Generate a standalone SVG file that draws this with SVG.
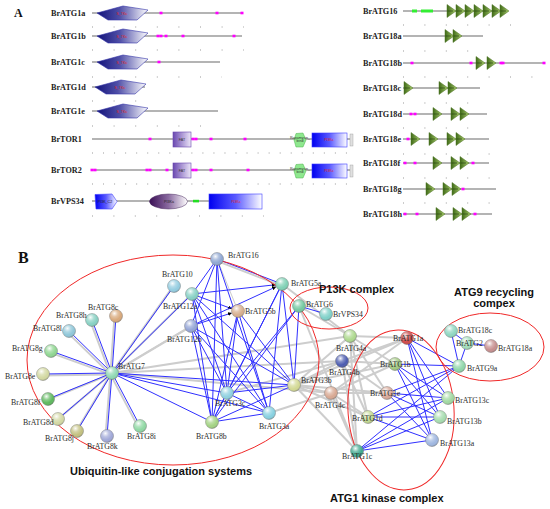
<svg xmlns="http://www.w3.org/2000/svg" xmlns:xlink="http://www.w3.org/1999/xlink" width="550" height="509" viewBox="0 0 550 509">
<style>
.pl{font-family:"Liberation Serif",serif;font-weight:bold;font-size:8.2px;fill:#222}
.lbl{font-family:"Liberation Serif",serif;font-size:7.8px;fill:#2a2a2a}
.cap{font-family:"Liberation Sans",Arial,sans-serif;font-weight:bold;font-size:11px;fill:#111}
.big{font-family:"Liberation Serif",serif;font-weight:bold;fill:#111}
.dom{font-family:"Liberation Sans",Arial,sans-serif;font-size:3.6px;text-anchor:middle}
.bb{stroke:#b4b4b4;stroke-width:1.8}
.tk{stroke:#9a9a9a;stroke-width:1.2}
.g line{stroke:#cdcdcd;stroke-width:2}
.b line{stroke:#2f2fff;stroke-width:1}
.ell{fill:none;stroke:#f02828;stroke-width:1}
.s{fill:url(#shine);stroke:#6f6f6f;stroke-width:0.4}
</style>
<defs>
<linearGradient id="gNavy" x1="0" y1="0" x2="1" y2="0"><stop offset="0" stop-color="#12127a"/><stop offset="0.45" stop-color="#5050a8"/><stop offset="1" stop-color="#ffffff"/></linearGradient>
<linearGradient id="gBlue" x1="0" y1="0" x2="1" y2="0"><stop offset="0" stop-color="#0000f0"/><stop offset="0.5" stop-color="#5a5aff"/><stop offset="1" stop-color="#ffffff"/></linearGradient>
<linearGradient id="gPur" x1="0" y1="0" x2="1" y2="0"><stop offset="0" stop-color="#6a48b0"/><stop offset="1" stop-color="#ece6f8"/></linearGradient>
<linearGradient id="gEll" x1="0" y1="0" x2="1" y2="0"><stop offset="0" stop-color="#3a0f55"/><stop offset="0.5" stop-color="#8a6aa0"/><stop offset="1" stop-color="#ffffff"/></linearGradient>
<linearGradient id="gTri" x1="0" y1="0" x2="1" y2="0"><stop offset="0" stop-color="#3f6a18"/><stop offset="1" stop-color="#a9cc6c"/></linearGradient>
<radialGradient id="shine" cx="0.38" cy="0.3" r="0.75"><stop offset="0" stop-color="#fff" stop-opacity="0.95"/><stop offset="0.35" stop-color="#fff" stop-opacity="0.3"/><stop offset="0.7" stop-color="#fff" stop-opacity="0"/><stop offset="1" stop-color="#000" stop-opacity="0.3"/></radialGradient>
<path id="stkc" d="M97,0 L123,-7 L148,-3 L137,7 L108,7 Z" fill="url(#gNavy)" stroke="#3434a8" stroke-width="0.6"/>
<g id="wd"><path d="M0,-6.5 L9,0 L0,6.5 Z" fill="url(#gTri)" stroke="#4f7424" stroke-width="0.5"/><path d="M0.5,0 H6" stroke="#203a0a" stroke-width="0.6"/></g>
<rect id="m" x="-1.5" y="-1.3" width="3" height="2.6" fill="#ff00ff"/>
<marker id="arr" viewBox="0 0 6 6" refX="5" refY="3" markerWidth="4" markerHeight="4" orient="auto"><path d="M0,0 L6,3 L0,6 Z" fill="#000"/></marker>
</defs>
<rect width="550" height="509" fill="#fff"/>

<!-- Panel A -->
<text class="big" x="14" y="17" font-size="12">A</text>
<g id="panelA-left">
<text class="pl" x="51" y="16">BrATG1a</text>
<line class="bb" x1="92" y1="13" x2="243" y2="13"/>
<use xlink:href="#stkc" y="13"/><text class="dom" x="122" y="14.5" fill="#e02020">S_TKc</text>
<use xlink:href="#m" x="161" y="13"/><use xlink:href="#m" x="217" y="13"/><use xlink:href="#m" x="242" y="13"/>
<line class="tk" x1="92" y1="27" x2="244" y2="27" stroke-dasharray="1 20.6"/>

<text class="pl" x="51" y="39">BrATG1b</text>
<line class="bb" x1="92" y1="36" x2="242" y2="36"/>
<use xlink:href="#stkc" y="36"/><text class="dom" x="122" y="37.5" fill="#e02020">S_TKc</text>
<use xlink:href="#m" x="158" y="36"/><use xlink:href="#m" x="161" y="36"/><use xlink:href="#m" x="166" y="36"/><use xlink:href="#m" x="183" y="36"/><use xlink:href="#m" x="234" y="36"/>
<line class="tk" x1="92" y1="50" x2="244" y2="50" stroke-dasharray="1 20.6"/>

<text class="pl" x="51" y="65">BrATG1c</text>
<line class="bb" x1="92" y1="62" x2="220" y2="62"/>
<use xlink:href="#stkc" y="62"/><text class="dom" x="122" y="63.5" fill="#e02020">S_TKc</text>
<use xlink:href="#m" x="159" y="62"/>
<line class="tk" x1="92" y1="77" x2="222" y2="77" stroke-dasharray="1 20.6"/>

<text class="pl" x="51" y="90">BrATG1d</text>
<line class="bb" x1="92" y1="87" x2="145" y2="87"/>
<use xlink:href="#stkc" y="87" x="-2"/><text class="dom" x="120" y="88.5" fill="#e02020">S_TKc</text>
<line class="tk" x1="92" y1="101" x2="137" y2="101" stroke-dasharray="1 20.6"/>

<text class="pl" x="51" y="114">BrATG1e</text>
<line class="bb" x1="92" y1="111" x2="218" y2="111"/>
<use xlink:href="#stkc" y="111"/><text class="dom" x="122" y="112.5" fill="#e02020">S_TKc</text>
<line class="tk" x1="92" y1="126" x2="201" y2="126" stroke-dasharray="1 20.6"/>

<text class="pl" x="51" y="142">BrTOR1</text>
<line class="bb" x1="92" y1="139" x2="352" y2="139"/>
<use xlink:href="#m" x="150" y="139"/><use xlink:href="#m" x="193" y="139"/><use xlink:href="#m" x="196" y="139"/><use xlink:href="#m" x="211" y="139"/><use xlink:href="#m" x="245" y="139"/>
<rect x="173" y="132" width="18" height="15" fill="url(#gPur)" stroke="#6a48b0" stroke-width="0.6"/><text class="dom" x="182" y="140.5" fill="#333">FAT</text>
<path d="M296,133.5 L303,133 L306,140 L303,147 L296,147 L294,140 Z" fill="#8ee88e" stroke="#4cb04c" stroke-width="0.5"/>
<text class="dom" x="300" y="139" font-size="2.2px" fill="#333">Rapamycin_</text><text class="dom" x="300" y="142" font-size="2.2px" fill="#333">bind</text>
<rect x="312" y="133" width="35" height="14" fill="url(#gBlue)" stroke="#3c3cff" stroke-width="0.6"/><text class="dom" x="329" y="141" fill="#e02020">PI3Kc</text>
<rect x="350" y="134" width="3" height="12" fill="#e0e0e0" stroke="#999" stroke-width="0.4"/>
<line class="tk" x1="92" y1="153" x2="347" y2="153" stroke-dasharray="1 10.04"/>

<text class="pl" x="51" y="173">BrTOR2</text>
<line class="bb" x1="92" y1="170" x2="352" y2="170"/>
<use xlink:href="#m" x="92" y="170"/><use xlink:href="#m" x="95" y="170"/><use xlink:href="#m" x="147" y="170"/><use xlink:href="#m" x="150" y="170"/><use xlink:href="#m" x="167" y="170"/><use xlink:href="#m" x="193" y="170"/><use xlink:href="#m" x="196" y="170"/><use xlink:href="#m" x="211" y="170"/><use xlink:href="#m" x="248" y="170"/>
<rect x="173" y="163" width="18" height="15" fill="url(#gPur)" stroke="#6a48b0" stroke-width="0.6"/><text class="dom" x="182" y="171.5" fill="#333">FAT</text>
<path d="M296,164.5 L303,164 L306,171 L303,178 L296,178 L294,171 Z" fill="#8ee88e" stroke="#4cb04c" stroke-width="0.5"/>
<text class="dom" x="300" y="170" font-size="2.2px" fill="#333">Rapamycin_</text><text class="dom" x="300" y="173" font-size="2.2px" fill="#333">bind</text>
<rect x="312" y="164" width="35" height="14" fill="url(#gBlue)" stroke="#3c3cff" stroke-width="0.6"/><text class="dom" x="329" y="172" fill="#e02020">PI3Kc</text>
<rect x="350" y="165" width="3" height="12" fill="#e0e0e0" stroke="#999" stroke-width="0.4"/>
<line class="tk" x1="92" y1="184" x2="347" y2="184" stroke-dasharray="1 10.04"/>

<text class="pl" x="51" y="204">BrVPS34</text>
<line class="bb" x1="92" y1="201" x2="262" y2="201"/>
<path d="M95,194.5 L112,194 L117,201.5 L112,209 L96,209 Z" fill="url(#gBlue)" stroke="#3c3cff" stroke-width="0.6"/><text class="dom" x="105" y="203" font-size="3.2px" fill="#222">PI3K_C2</text>
<ellipse cx="168.5" cy="201.5" rx="19" ry="7.5" fill="url(#gEll)" stroke="#4a2a60" stroke-width="0.5"/><text class="dom" x="169" y="203" fill="#222">PI3Ka</text>
<rect x="193" y="199.8" width="6" height="2.6" fill="#22dd22"/>
<rect x="209" y="194" width="53" height="15" fill="url(#gBlue)" stroke="#3c3cff" stroke-width="0.6"/><text class="dom" x="236" y="203" fill="#e02020">PI3Kc</text>
<line class="tk" x1="92" y1="216" x2="264" y2="216" stroke-dasharray="1 20.4"/>
</g>

<g id="panelA-right">
<text class="pl" x="363" y="14">BrATG16</text>
<line class="bb" x1="403" y1="11" x2="508" y2="11"/>
<rect x="412" y="9.5" width="5" height="3" fill="#33ee33"/><rect x="421" y="9.5" width="12" height="3" fill="#33ee33"/>
<use xlink:href="#wd" x="447" y="11"/><use xlink:href="#wd" x="456" y="11"/><use xlink:href="#wd" x="465" y="11"/><use xlink:href="#wd" x="474" y="11"/><use xlink:href="#wd" x="483" y="11"/><use xlink:href="#wd" x="492" y="11"/><use xlink:href="#wd" x="500" y="11"/>
<line class="tk" x1="403" y1="25" x2="511" y2="25" stroke-dasharray="1 20.4"/>

<text class="pl" x="363" y="39">BrATG18a</text>
<line class="bb" x1="403" y1="36" x2="483" y2="36"/>
<use xlink:href="#wd" x="445" y="36"/><use xlink:href="#wd" x="453" y="36"/>
<line class="tk" x1="403" y1="51" x2="469" y2="51" stroke-dasharray="1 20.4"/>

<text class="pl" x="363" y="66">BrATG18b</text>
<line class="bb" x1="403" y1="63" x2="545" y2="63"/>
<use xlink:href="#m" x="412" y="63"/><use xlink:href="#m" x="471" y="63"/><use xlink:href="#m" x="501" y="63"/><use xlink:href="#m" x="503" y="63"/><use xlink:href="#m" x="544" y="63"/>
<use xlink:href="#wd" x="476" y="63"/><use xlink:href="#wd" x="487" y="63"/>
<line class="tk" x1="403" y1="77" x2="533" y2="77" stroke-dasharray="1 20.4"/>

<text class="pl" x="363" y="91">BrATG18c</text>
<line class="bb" x1="403" y1="88" x2="480" y2="88"/>
<use xlink:href="#wd" x="404" y="88"/><use xlink:href="#wd" x="439" y="88"/><use xlink:href="#wd" x="448" y="88"/>
<line class="tk" x1="403" y1="103" x2="469" y2="103" stroke-dasharray="1 20.4"/>

<text class="pl" x="363" y="117">BrATG18d</text>
<line class="bb" x1="403" y1="114" x2="487" y2="114"/>
<use xlink:href="#m" x="411" y="114"/><use xlink:href="#m" x="415" y="114"/>
<use xlink:href="#wd" x="433" y="114"/><use xlink:href="#wd" x="451" y="114"/><use xlink:href="#wd" x="460" y="114"/>
<line class="tk" x1="403" y1="128" x2="469" y2="128" stroke-dasharray="1 20.4"/>

<text class="pl" x="363" y="142">BrATG18e</text>
<line class="bb" x1="403" y1="139" x2="489" y2="139"/>
<use xlink:href="#m" x="408" y="139"/>
<use xlink:href="#wd" x="411" y="139"/><use xlink:href="#wd" x="429" y="139"/><use xlink:href="#wd" x="447" y="139"/><use xlink:href="#wd" x="456" y="139"/>
<line class="tk" x1="403" y1="154" x2="490" y2="154" stroke-dasharray="1 20.4"/>

<text class="pl" x="363" y="166">BrATG18f</text>
<line class="bb" x1="403" y1="163" x2="489" y2="163"/>
<use xlink:href="#m" x="405" y="163"/><use xlink:href="#m" x="415" y="163"/><use xlink:href="#m" x="473" y="163"/>
<use xlink:href="#wd" x="433" y="163"/><use xlink:href="#wd" x="451" y="163"/><use xlink:href="#wd" x="460" y="163"/>
<line class="tk" x1="403" y1="178" x2="490" y2="178" stroke-dasharray="1 20.4"/>

<text class="pl" x="363" y="192">BrATG18g</text>
<line class="bb" x1="403" y1="189" x2="496" y2="189"/>
<use xlink:href="#m" x="463" y="189"/>
<use xlink:href="#wd" x="426" y="189"/><use xlink:href="#wd" x="443" y="189"/><use xlink:href="#wd" x="452" y="189"/>
<line class="tk" x1="403" y1="203" x2="490" y2="203" stroke-dasharray="1 20.4"/>

<text class="pl" x="363" y="217">BrATG18h</text>
<line class="bb" x1="403" y1="214" x2="492" y2="214"/>
<use xlink:href="#m" x="405" y="214"/><use xlink:href="#m" x="417" y="214"/><use xlink:href="#m" x="475" y="214"/>
<use xlink:href="#wd" x="436" y="214"/><use xlink:href="#wd" x="453" y="214"/><use xlink:href="#wd" x="462" y="214"/>
</g>

<!-- Panel B -->
<text class="big" x="18" y="263" font-size="16">B</text>

<g id="connectors">
<g class="g">
<line x1="112" y1="373" x2="350" y2="336"/><line x1="112" y1="373" x2="342" y2="361"/><line x1="112" y1="373" x2="331" y2="393"/>
<line x1="294" y1="385" x2="350" y2="336"/><line x1="294" y1="385" x2="342" y2="361"/><line x1="294" y1="385" x2="331" y2="393"/>
<line x1="269" y1="413" x2="331" y2="393"/><line x1="227" y1="393" x2="342" y2="361"/>
<line x1="299" y1="306" x2="350" y2="336"/><line x1="282" y1="284" x2="350" y2="336"/><line x1="299" y1="306" x2="357" y2="451"/>
<line x1="350" y1="336" x2="407" y2="338"/><line x1="350" y1="336" x2="395" y2="364"/><line x1="350" y1="336" x2="387" y2="393"/><line x1="350" y1="336" x2="368" y2="417"/><line x1="350" y1="336" x2="357" y2="451"/>
<line x1="342" y1="361" x2="407" y2="338"/><line x1="342" y1="361" x2="395" y2="364"/><line x1="342" y1="361" x2="387" y2="393"/><line x1="342" y1="361" x2="368" y2="417"/><line x1="342" y1="361" x2="357" y2="451"/>
<line x1="331" y1="393" x2="407" y2="338"/><line x1="331" y1="393" x2="395" y2="364"/><line x1="331" y1="393" x2="387" y2="393"/><line x1="331" y1="393" x2="368" y2="417"/><line x1="331" y1="393" x2="357" y2="451"/>
<line x1="294" y1="385" x2="407" y2="338"/><line x1="294" y1="385" x2="395" y2="364"/><line x1="294" y1="385" x2="387" y2="393"/><line x1="294" y1="385" x2="368" y2="417"/><line x1="294" y1="385" x2="357" y2="451"/>
<line x1="112" y1="373" x2="191" y2="326"/>
<line x1="217" y1="259" x2="238" y2="311" style="stroke-width:1"/>
</g>
<g class="g" transform="translate(-1.6,1.4)">
<line x1="112" y1="373" x2="116" y2="316"/><line x1="112" y1="373" x2="92" y2="320"/><line x1="112" y1="373" x2="69" y2="331"/><line x1="112" y1="373" x2="51" y2="351"/><line x1="112" y1="373" x2="43" y2="374"/><line x1="112" y1="373" x2="48" y2="399"/><line x1="112" y1="373" x2="58" y2="419"/><line x1="112" y1="373" x2="77" y2="431"/><line x1="112" y1="373" x2="107" y2="436"/><line x1="112" y1="373" x2="140" y2="426"/>
<line x1="112" y1="373" x2="174" y2="286"/><line x1="112" y1="373" x2="192" y2="294"/><line x1="112" y1="373" x2="191" y2="326"/>
<line x1="217" y1="259" x2="282" y2="284"/>
</g>
<g class="b">
<line x1="112" y1="373" x2="116" y2="316"/><line x1="112" y1="373" x2="92" y2="320"/><line x1="112" y1="373" x2="69" y2="331"/><line x1="112" y1="373" x2="51" y2="351"/><line x1="112" y1="373" x2="43" y2="374"/><line x1="112" y1="373" x2="48" y2="399"/><line x1="112" y1="373" x2="58" y2="419"/><line x1="112" y1="373" x2="77" y2="431"/><line x1="112" y1="373" x2="107" y2="436"/><line x1="112" y1="373" x2="140" y2="426"/>
<line x1="112" y1="373" x2="174" y2="286"/><line x1="112" y1="373" x2="192" y2="294"/>
<line x1="217" y1="259" x2="282" y2="284"/>
<line x1="112" y1="373" x2="294" y2="385"/><line x1="112" y1="373" x2="227" y2="393"/><line x1="112" y1="373" x2="269" y2="413"/><line x1="112" y1="373" x2="212" y2="422"/>
<line x1="217" y1="259" x2="192" y2="294"/><line x1="217" y1="259" x2="191" y2="326"/><line x1="217" y1="259" x2="227" y2="393"/><line x1="217" y1="259" x2="212" y2="422"/><line x1="217" y1="259" x2="269" y2="413"/>
<line x1="192" y1="294" x2="275" y2="284.8" marker-end="url(#arr)"/><line x1="192" y1="294" x2="231.4" y2="308.6" marker-end="url(#arr)"/>
<line x1="191" y1="326" x2="275.6" y2="287" marker-end="url(#arr)"/><line x1="191" y1="326" x2="231.3" y2="313.1" marker-end="url(#arr)"/>
<line x1="192" y1="294" x2="294" y2="385"/><line x1="192" y1="294" x2="269" y2="413"/><line x1="192" y1="294" x2="227" y2="393"/><line x1="192" y1="294" x2="212" y2="422"/>
<line x1="191" y1="326" x2="294" y2="385"/><line x1="191" y1="326" x2="269" y2="413"/><line x1="191" y1="326" x2="227" y2="393"/><line x1="191" y1="326" x2="212" y2="422"/>
<line x1="282" y1="284" x2="294" y2="385"/><line x1="282" y1="284" x2="269" y2="413"/><line x1="282" y1="284" x2="227" y2="393"/><line x1="282" y1="284" x2="212" y2="422"/>
<line x1="238" y1="311" x2="294" y2="385"/><line x1="238" y1="311" x2="269" y2="413"/><line x1="238" y1="311" x2="227" y2="393"/><line x1="238" y1="311" x2="212" y2="422"/>
<line x1="299" y1="306" x2="294" y2="385"/><line x1="299" y1="306" x2="227" y2="393"/><line x1="299" y1="306" x2="212" y2="422"/><line x1="299" y1="306" x2="326" y2="314"/>
<line x1="227" y1="393" x2="294" y2="385"/><line x1="227" y1="393" x2="269" y2="413"/><line x1="227" y1="393" x2="212" y2="422"/><line x1="212" y1="422" x2="269" y2="413"/><line x1="212" y1="422" x2="294" y2="385"/>
<line x1="407" y1="338" x2="448" y2="398"/><line x1="407" y1="338" x2="440" y2="417"/><line x1="407" y1="338" x2="432" y2="440"/><line x1="407" y1="338" x2="459" y2="366"/>
<line x1="395" y1="364" x2="448" y2="398"/><line x1="395" y1="364" x2="440" y2="417"/><line x1="395" y1="364" x2="432" y2="440"/><line x1="395" y1="364" x2="459" y2="366"/>
<line x1="387" y1="393" x2="448" y2="398"/><line x1="387" y1="393" x2="440" y2="417"/><line x1="387" y1="393" x2="432" y2="440"/><line x1="387" y1="393" x2="459" y2="366"/>
<line x1="368" y1="417" x2="448" y2="398"/><line x1="368" y1="417" x2="440" y2="417"/><line x1="368" y1="417" x2="432" y2="440"/><line x1="368" y1="417" x2="459" y2="366"/>
<line x1="357" y1="451" x2="448" y2="398"/><line x1="357" y1="451" x2="440" y2="417"/><line x1="357" y1="451" x2="432" y2="440"/><line x1="357" y1="451" x2="459" y2="366"/>
<line x1="451" y1="331" x2="467" y2="343"/><line x1="451" y1="331" x2="459" y2="366"/><line x1="467" y1="343" x2="459" y2="366"/><line x1="467" y1="343" x2="491" y2="346"/>
</g>
</g>

<g id="clusters">
<ellipse class="ell" cx="173" cy="360" rx="146" ry="105"/>
<ellipse class="ell" cx="329" cy="308" rx="39" ry="21"/>
<ellipse class="ell" cx="490" cy="347" rx="54" ry="34"/>
<ellipse class="ell" cx="401" cy="410" rx="53" ry="80" transform="rotate(-4 401 410)"/>
<text class="cap" x="319" y="293">P13K complex</text>
<text class="cap" x="494" y="296" text-anchor="middle">ATG9 recycling</text>
<text class="cap" x="494" y="307" text-anchor="middle">compex</text>
<text class="cap" x="70" y="475">Ubiquitin-like conjugation systems</text>
<text class="cap" x="330" y="502">ATG1 kinase complex</text>
</g>

<g id="nodes">
<g id="BrATG16"><circle cx="217" cy="259" r="6.5" fill="#8ea6d2"/><circle cx="217" cy="259" r="6.5" class="s"/><text class="lbl" x="228" y="258">BrATG16</text></g>
<g id="BrATG10"><circle cx="174" cy="286" r="6.5" fill="#92cce0"/><circle cx="174" cy="286" r="6.5" class="s"/><text class="lbl" x="162" y="277">BrATG10</text></g>
<g id="BrATG12a"><circle cx="192" cy="294" r="6.5" fill="#86d0c4"/><circle cx="192" cy="294" r="6.5" class="s"/><text class="lbl" x="163" y="309">BrATG12a</text></g>
<g id="BrATG12b"><circle cx="191" cy="326" r="6.5" fill="#93a4d6"/><circle cx="191" cy="326" r="6.5" class="s"/><text class="lbl" x="167" y="342">BrATG12b</text></g>
<g id="BrATG5a"><circle cx="282" cy="284" r="6.5" fill="#7ed0b4"/><circle cx="282" cy="284" r="6.5" class="s"/><text class="lbl" x="291" y="286">BrATG5a</text></g>
<g id="BrATG5b"><circle cx="238" cy="311" r="6.5" fill="#d6ae8e"/><circle cx="238" cy="311" r="6.5" class="s"/><text class="lbl" x="245" y="314">BrATG5b</text></g>
<g id="BrATG6"><circle cx="299" cy="306" r="6.5" fill="#72c8a0"/><circle cx="299" cy="306" r="6.5" class="s"/><text class="lbl" x="306" y="307">BrATG6</text></g>
<g id="BrVPS34"><circle cx="326" cy="314" r="6.5" fill="#7ed0c8"/><circle cx="326" cy="314" r="6.5" class="s"/><text class="lbl" x="333" y="317">BrVPS34</text></g>
<g id="BrATG4a"><circle cx="350" cy="336" r="6.5" fill="#acd88c"/><circle cx="350" cy="336" r="6.5" class="s"/><text class="lbl" x="336" y="351">BrATG4a</text></g>
<g id="BrATG4b"><circle cx="342" cy="361" r="6.5" fill="#4a5ab0"/><circle cx="342" cy="361" r="6.5" class="s"/><text class="lbl" x="329" y="375">BrATG4b</text></g>
<g id="BrATG4c"><circle cx="331" cy="393" r="6.5" fill="#d8a892"/><circle cx="331" cy="393" r="6.5" class="s"/><text class="lbl" x="315" y="408">BrATG4c</text></g>
<g id="BrATG3b"><circle cx="294" cy="385" r="6.5" fill="#d2d892"/><circle cx="294" cy="385" r="6.5" class="s"/><text class="lbl" x="301" y="383">BrATG3b</text></g>
<g id="BrATG3c"><circle cx="227" cy="393" r="6.5" fill="#8ed0e0"/><circle cx="227" cy="393" r="6.5" class="s"/><text class="lbl" x="215" y="406">BrATG3c</text></g>
<g id="BrATG3a"><circle cx="269" cy="413" r="6.5" fill="#86d0e0"/><circle cx="269" cy="413" r="6.5" class="s"/><text class="lbl" x="259" y="429">BrATG3a</text></g>
<g id="BrATG8b"><circle cx="212" cy="422" r="6.5" fill="#a2d282"/><circle cx="212" cy="422" r="6.5" class="s"/><text class="lbl" x="196" y="439">BrATG8b</text></g>
<g id="BrATG7"><circle cx="112" cy="373" r="6.5" fill="#8ed8b2"/><circle cx="112" cy="373" r="6.5" class="s"/><text class="lbl" x="118" y="369">BrATG7</text></g>
<g id="BrATG8c"><circle cx="116" cy="316" r="6.5" fill="#d8a87a"/><circle cx="116" cy="316" r="6.5" class="s"/><text class="lbl" x="88" y="310">BrATG8c</text></g>
<g id="BrATG8h"><circle cx="92" cy="320" r="6.5" fill="#86d0c2"/><circle cx="92" cy="320" r="6.5" class="s"/><text class="lbl" x="56" y="318">BrATG8h</text></g>
<g id="BrATG8l"><circle cx="69" cy="331" r="6.5" fill="#8ec6d8"/><circle cx="69" cy="331" r="6.5" class="s"/><text class="lbl" x="33" y="331">BrATG8l</text></g>
<g id="BrATG8g"><circle cx="51" cy="351" r="6.5" fill="#8ed690"/><circle cx="51" cy="351" r="6.5" class="s"/><text class="lbl" x="12" y="351">BrATG8g</text></g>
<g id="BrATG8e"><circle cx="43" cy="374" r="6.5" fill="#d2d8a0"/><circle cx="43" cy="374" r="6.5" class="s"/><text class="lbl" x="5" y="379">BrATG8e</text></g>
<g id="BrATG8f"><circle cx="48" cy="399" r="6.5" fill="#5cb85c"/><circle cx="48" cy="399" r="6.5" class="s"/><text class="lbl" x="11" y="405">BrATG8f</text></g>
<g id="BrATG8d"><circle cx="58" cy="419" r="6.5" fill="#d2d8a2"/><circle cx="58" cy="419" r="6.5" class="s"/><text class="lbl" x="23" y="425">BrATG8d</text></g>
<g id="BrATG8j"><circle cx="77" cy="431" r="6.5" fill="#c2c07e"/><circle cx="77" cy="431" r="6.5" class="s"/><text class="lbl" x="45" y="441">BrATG8j</text></g>
<g id="BrATG8k"><circle cx="107" cy="436" r="6.5" fill="#a0a8d8"/><circle cx="107" cy="436" r="6.5" class="s"/><text class="lbl" x="87" y="449">BrATG8k</text></g>
<g id="BrATG8i"><circle cx="140" cy="426" r="6.5" fill="#8ed8a2"/><circle cx="140" cy="426" r="6.5" class="s"/><text class="lbl" x="127" y="439">BrATG8i</text></g>
<g id="BrATG1a"><circle cx="407" cy="338" r="6.5" fill="#d04848"/><circle cx="407" cy="338" r="6.5" class="s"/><text class="lbl" x="393" y="341">BrATG1a</text></g>
<g id="BrATG1b"><circle cx="395" cy="364" r="6.5" fill="#a2c880"/><circle cx="395" cy="364" r="6.5" class="s"/><text class="lbl" x="380" y="367">BrATG1b</text></g>
<g id="BrATG1e"><circle cx="387" cy="393" r="6.5" fill="#d8a898"/><circle cx="387" cy="393" r="6.5" class="s"/><text class="lbl" x="370" y="396">BrATG1e</text></g>
<g id="BrATG1d"><circle cx="368" cy="417" r="6.5" fill="#c2d890"/><circle cx="368" cy="417" r="6.5" class="s"/><text class="lbl" x="352" y="421">BrATG1d</text></g>
<g id="BrATG1c"><circle cx="357" cy="451" r="6.5" fill="#3ea88e"/><circle cx="357" cy="451" r="6.5" class="s"/><text class="lbl" x="342" y="459">BrATG1c</text></g>
<g id="BrATG13c"><circle cx="448" cy="398" r="6.5" fill="#a0d8a0"/><circle cx="448" cy="398" r="6.5" class="s"/><text class="lbl" x="455" y="403">BrATG13c</text></g>
<g id="BrATG13b"><circle cx="440" cy="417" r="6.5" fill="#a6dcae"/><circle cx="440" cy="417" r="6.5" class="s"/><text class="lbl" x="447" y="424">BrATG13b</text></g>
<g id="BrATG13a"><circle cx="432" cy="440" r="6.5" fill="#9eb6e0"/><circle cx="432" cy="440" r="6.5" class="s"/><text class="lbl" x="440" y="446">BrATG13a</text></g>
<g id="BrATG9a"><circle cx="459" cy="366" r="6.5" fill="#8ed6a8"/><circle cx="459" cy="366" r="6.5" class="s"/><text class="lbl" x="467" y="371">BrATG9a</text></g>
<g id="BrATG18c"><circle cx="451" cy="331" r="6.5" fill="#8ed6c0"/><circle cx="451" cy="331" r="6.5" class="s"/><text class="lbl" x="458" y="333">BrATG18c</text></g>
<g id="BrATG2"><circle cx="467" cy="343" r="6.5" fill="#a0dcb8"/><circle cx="467" cy="343" r="6.5" class="s"/><text class="lbl" x="456" y="346">BrATG2</text></g>
<g id="BrATG18a"><circle cx="491" cy="346" r="6.5" fill="#c68e8e"/><circle cx="491" cy="346" r="6.5" class="s"/><text class="lbl" x="498" y="351">BrATG18a</text></g>
</g>
</svg>
